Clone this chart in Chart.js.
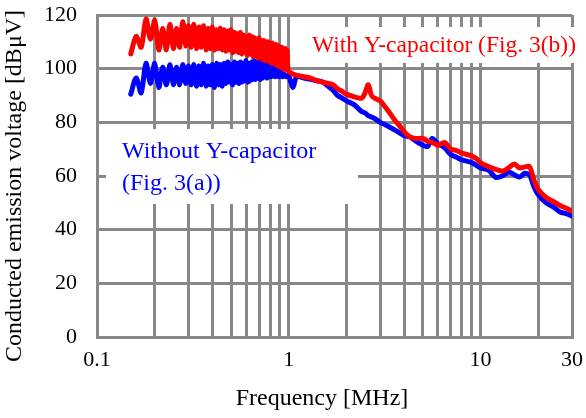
<!DOCTYPE html>
<html><head><meta charset="utf-8">
<script src="https://cdn.jsdelivr.net/npm/chart.js@4.4.0/dist/chart.umd.min.js"></script>
<style>html,body{margin:0;padding:0;background:#fff;}</style>
</head><body>
<canvas id="c" width="586" height="418"></canvas>
<script>
// Frequency points [MHz]
const freqMHz = [
 0.15,0.16,0.17,0.18,0.19,0.20,0.21,0.22,0.23,0.24,0.25,0.26,0.27,0.28,0.29,0.30,0.31,0.32,0.33,0.34,
 0.35,0.36,0.37,0.38,0.39,0.40,0.41,0.42,0.43,0.44,0.45,0.46,0.47,0.48,0.49,0.50,0.51,0.52,0.53,0.54,
 0.55,0.56,0.57,0.58,0.59,0.60,0.61,0.62,0.63,0.64,0.65,0.66,0.67,0.68,0.69,0.70,0.71,0.72,0.73,0.74,
 0.75,0.76,0.77,0.78,0.79,0.80,0.81,0.82,0.83,0.84,0.85,0.86,0.87,0.88,0.89,0.90,0.91,0.92,0.93,0.94,
 0.95,0.96,0.97,0.98,0.99,1.00,
 1.05,1.1,1.2,1.3,1.4,1.5,1.6,1.7,1.8,1.9,2.0,2.2,2.4,2.5,2.6,2.7,2.8,3.0,3.2,3.4,
 3.6,3.8,4.0,4.3,4.6,5.0,5.3,5.6,6.0,6.5,7.0,7.5,8.0,9.0,9.5,10,11,12,13,14,
 15,16,17,18,19,20,22,24,26,28,30
];
// With Y-capacitor (Fig. 3(b)) [dBuV]
const withYcap = [
 105.5,112,108,118.5,111,118,107,115,107,116.5,107.5,115,108,117.5,108.5,116,108,116.5,107.5,115.5,
 108,116,107,115,107.5,115.5,107,114.5,107.5,115,107,114.5,106.5,114,107,114.5,106,113.5,106.5,113,
 106,113.5,105.5,112.5,106,112,105,112.5,105.5,112,104.5,111.5,105,111,104,111.5,104,110.5,103.5,110.5,
 103,110,103,110,102.5,109.5,102,109.5,102.5,109,101.5,109,101,108.5,101,108,100.5,108,100,107.5,
 100,107.5,99.5,107,99.5,99,
 98,97.5,97,96.5,95.5,95,94.5,94,92.5,91.5,90.5,89.5,89,91,94,90,89,88,85.5,83,
 80.5,78.5,76.5,74.5,74,74,73,72.5,71.5,72.5,70,69.5,68.5,67.5,66.5,65,63.5,62.5,61.8,63,
 64.5,63,63.4,63.5,58.5,55,52,50.5,49,48,47
];
// Without Y-capacitor (Fig. 3(a)) [dBuV]
const withoutYcap = [
 90.5,96.5,91,102,94.5,102,93,100.5,94,101.5,94,100.5,94,101.5,94.5,101,94,101.5,93.5,101,
 94,102,93.5,101,94,101.5,93,102,94,101.5,93.5,102,94.5,102.5,95,101.5,94,102.5,95,102,
 94.5,102.5,95,102,95.5,103,95,102,95.5,102.5,96,103,96,102,96.5,103,96,102.5,96.5,102,
 97,102.5,96.5,102,97,101.5,97,101,97.5,101,97,100,97.5,99.5,97,99,97.5,98.5,97,98,
 97.5,97.5,97,97.5,97,97.5,
 93,97,96.5,96,95.5,95,93.5,92,90,89,88,86.5,84,83.5,82.5,82,81.5,80,79,78,
 77,76,75,74.5,73,71.5,71,74,72,70.5,68,67,66,65,64,63,62.2,59.5,60,61.5,
 60.5,59.6,61,60.4,56,53,50,48.5,46.6,46,45
];
const xGridTicks = [0.1,0.2,0.3,0.4,0.5,0.6,0.7,0.8,0.9,1,2,3,4,5,6,7,8,9,10,20,30];
const xLabelTicks = [0.1,1,10,30];
const yTicks = [0,20,40,60,80,100,120];
const seriesNames = ['With Y-capacitor (Fig. 3(b))', 'Without Y-capacitor', '(Fig. 3(a))'];
const xTitle = 'Frequency [MHz]';
const yTitle = 'Conducted emission voltage [dBμV]';

const SERIF = '"Liberation Serif", "Times New Roman", serif';
const GRID = '#888888';

const annot = {
  id: 'annot',
  beforeDatasetsDraw(chart) {
    const ctx = chart.ctx;
    ctx.save();
    ctx.fillStyle = '#ffffff';
    ctx.fillRect(106, 129, 252, 75);
    ctx.fillRect(300, 27, 282, 36);
    ctx.textBaseline = 'alphabetic';
    ctx.textAlign = 'left';
    ctx.font = '23.5px ' + SERIF;
    ctx.fillStyle = '#ff0000';
    ctx.fillText(seriesNames[0], 312, 52);
    ctx.font = '24px ' + SERIF;
    ctx.fillStyle = '#0000ff';
    ctx.fillText(seriesNames[1], 122, 158);
    ctx.fillText(seriesNames[2], 122, 190);
    ctx.restore();
  },
  afterDraw(chart) {
    const ctx = chart.ctx;
    ctx.save();
    ctx.fillStyle = '#000';
    ctx.font = '24px ' + SERIF;
    ctx.textAlign = 'center';
    ctx.textBaseline = 'middle';
    ctx.fillText(xTitle, 322, 399);
    ctx.translate(15, 186);
    ctx.rotate(-Math.PI / 2);
    ctx.fillText(yTitle, 0, 0);
    ctx.restore();
  }
};

function noPad(s) { s.paddingTop = 0; s.paddingBottom = 0; s.paddingLeft = 0; s.paddingRight = 0; }

new Chart(document.getElementById('c'), {
  type: 'line',
  data: {
    datasets: [
      { label: seriesNames[0], data: freqMHz.map((f, i) => ({ x: f, y: withYcap[i] })),
        borderColor: '#ff0000', borderWidth: 5, pointRadius: 0, tension: 0.3, fill: false,
        borderJoinStyle: 'round', borderCapStyle: 'round' },
      { label: seriesNames[1] + ' ' + seriesNames[2], data: freqMHz.map((f, i) => ({ x: f, y: withoutYcap[i] })),
        borderColor: '#0000ff', borderWidth: 5, pointRadius: 0, tension: 0.3, fill: false,
        borderJoinStyle: 'round', borderCapStyle: 'round' }
    ]
  },
  options: {
    responsive: false,
    animation: false,
    devicePixelRatio: 1,
    layout: { padding: { top: 15, right: 14, left: 0, bottom: 0 } },
    plugins: { legend: { display: false }, tooltip: { enabled: false } },
    scales: {
      x: {
        type: 'logarithmic', min: 0.1, max: 30,
        afterBuildTicks: s => { s.ticks = xGridTicks.map(v => ({ value: v })); },
        afterFit: s => { s.height = 81; noPad(s); },
        ticks: { autoSkip: false, maxRotation: 0, minRotation: 0, padding: 10, color: '#000',
          font: { family: SERIF, size: 22 },
          callback: v => xLabelTicks.includes(v) ? String(v) : '' },
        grid: { color: GRID, lineWidth: 3, drawTicks: false },
        border: { color: GRID, width: 3 }
      },
      y: {
        min: 0, max: 120,
        afterBuildTicks: s => { s.ticks = yTicks.map(v => ({ value: v })); },
        afterFit: s => { s.width = 97; noPad(s); },
        ticks: { padding: 20, color: '#000', font: { family: SERIF, size: 22 } },
        grid: { color: GRID, lineWidth: 3, drawTicks: false },
        border: { color: GRID, width: 3 }
      }
    }
  },
  plugins: [annot]
});
</script>
</body></html>
